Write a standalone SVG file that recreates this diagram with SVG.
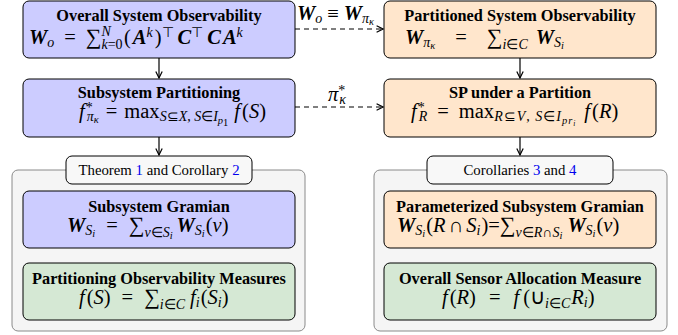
<svg xmlns="http://www.w3.org/2000/svg" width="678" height="335" viewBox="0 0 678 335">
<style>
.bg{fill:#ffffff}
.cont{fill:#f5f5f5;stroke:#8a8a8a;stroke-width:1}
.lab{fill:#f8f8f8;stroke:#000;stroke-width:1}
.pur{fill:#ccccff;stroke:#000;stroke-width:1}
.org{fill:#ffe6cc;stroke:#000;stroke-width:1}
.grn{fill:#d5e8d4;stroke:#000;stroke-width:1}
.t{font-family:'Liberation Serif',serif;font-weight:bold;font-size:16.3px;text-anchor:middle}
.m{font-family:'Liberation Serif',serif;font-size:20.5px}
.l{font-family:'Liberation Serif',serif;font-size:14.8px;text-anchor:middle}
.b{font-weight:bold;font-style:italic}
.i{font-style:italic}
.s{font-size:14px}
.ss{font-size:10.5px}
.sum{font-size:22px}
.ref{fill:#0000ee}
.c{fill:none;stroke:#000;stroke-width:1.2}
.d{stroke-dasharray:5,4}
</style>
<defs>
<marker id="ah" viewBox="0 0 10 10" refX="9" refY="5" markerWidth="8" markerHeight="8" markerUnits="userSpaceOnUse" orient="auto">
<path d="M1,1 L9,5 L1,9" fill="none" stroke="#000" stroke-width="1.5"/>
</marker>
</defs>
<rect class="bg" x="0" y="0" width="678" height="335"/>

<g id="containers">
<rect id="left-container" class="cont" x="12" y="170" width="293" height="161" rx="6"/>
<rect id="right-container" class="cont" x="374" y="170" width="293" height="161" rx="6"/>
</g>

<g id="connectors">
<line class="c" x1="159" y1="58" x2="159" y2="78" marker-end="url(#ah)"/>
<line class="c" x1="159" y1="137" x2="159" y2="155" marker-end="url(#ah)"/>
<line class="c" x1="520" y1="58" x2="520" y2="78" marker-end="url(#ah)"/>
<line class="c" x1="520" y1="137" x2="520" y2="155" marker-end="url(#ah)"/>
<line class="c d" x1="295" y1="29" x2="383" y2="29" marker-end="url(#ah)"/>
<line class="c d" x1="295" y1="107" x2="383" y2="107" marker-end="url(#ah)"/>
<text class="m" x="297" y="20" font-size="19"><tspan class="b">W</tspan><tspan class="i s" baseline-shift="-3">o</tspan><tspan dx="5">≡</tspan><tspan class="b" dx="5">W</tspan><tspan class="i s" baseline-shift="-3">π<tspan class="ss" baseline-shift="-2">κ</tspan></tspan></text>
<text class="m" x="328" y="101" font-size="19"><tspan class="i">π</tspan><tspan class="s" baseline-shift="6">*</tspan><tspan class="i s" dx="-6" baseline-shift="-3">κ</tspan></text>
</g>

<g id="overall-system-observability">
<rect class="pur" x="23" y="1" width="272" height="57" rx="6"/>
<text class="t" x="159" y="21">Overall System Observability</text>
<text class="m" x="29" y="44"><tspan class="b">W</tspan><tspan class="i s" baseline-shift="-3">o</tspan><tspan dx="10">=</tspan><tspan class="sum" dx="10">∑</tspan><tspan class="s" baseline-shift="-5"><tspan class="i">k</tspan>=0</tspan><tspan class="i s" dx="-21" baseline-shift="8">N</tspan><tspan dx="13">(</tspan><tspan class="b" dx="2">A</tspan><tspan class="i s" baseline-shift="7">k</tspan><tspan dx="2">)</tspan><tspan class="s" baseline-shift="7">⊤</tspan><tspan class="b" dx="4">C</tspan><tspan class="s" baseline-shift="7">⊤</tspan><tspan class="b" dx="4">C</tspan><tspan class="b" dx="2">A</tspan><tspan class="i s" baseline-shift="7">k</tspan></text>
</g>

<g id="subsystem-partitioning">
<rect class="pur" x="23" y="79" width="272" height="58" rx="6"/>
<text class="t" x="159" y="98">Subsystem Partitioning</text>
<text class="m" x="79" y="118"><tspan class="i">f</tspan><tspan class="s" dx="1" baseline-shift="6">*</tspan><tspan class="i s" dx="-6" baseline-shift="-3">π<tspan class="ss" baseline-shift="-2">κ</tspan></tspan><tspan dx="7">=</tspan><tspan dx="7">max</tspan><tspan class="s" baseline-shift="-3"><tspan class="i">S</tspan>⊆<tspan class="i">X</tspan>, <tspan class="i">S</tspan>∈<tspan class="i">I</tspan><tspan class="i ss" baseline-shift="-3">p</tspan><tspan class="ss" baseline-shift="-5">1</tspan></tspan><tspan class="i" dx="6">f</tspan><tspan dx="2">(</tspan><tspan class="i">S</tspan>)</text>
</g>

<g id="partitioned-system-observability">
<rect class="org" x="384" y="1" width="272" height="57" rx="6"/>
<text class="t" x="520" y="21">Partitioned System Observability</text>
<text class="m" x="405" y="44"><tspan class="b">W</tspan><tspan class="i s" baseline-shift="-3">π<tspan class="ss" baseline-shift="-2">κ</tspan></tspan><tspan dx="20">=</tspan><tspan class="sum" dx="20">∑</tspan><tspan class="s" baseline-shift="-5"><tspan class="i">i</tspan>∈<tspan class="i">C</tspan></tspan><tspan class="b" dx="8">W</tspan><tspan class="i s" baseline-shift="-3">S<tspan class="ss" baseline-shift="-2">i</tspan></tspan></text>
</g>

<g id="sp-under-partition">
<rect class="org" x="384" y="79" width="272" height="58" rx="6"/>
<text class="t" x="520" y="98">SP under a Partition</text>
<text class="m" x="411" y="118"><tspan class="i">f</tspan><tspan class="s" dx="1" baseline-shift="6">*</tspan><tspan class="i s" dx="-6" baseline-shift="-3">R</tspan><tspan dx="10">=</tspan><tspan dx="10">max</tspan><tspan class="s" baseline-shift="-3" letter-spacing="1"><tspan class="i">R</tspan>⊆<tspan class="i">V</tspan>, <tspan class="i">S</tspan>∈<tspan class="i">I</tspan><tspan class="i ss" baseline-shift="-3">p</tspan><tspan class="i ss" baseline-shift="-3">r</tspan><tspan class="i" font-size="7.5px" baseline-shift="-5">i</tspan></tspan><tspan class="i" dx="8">f</tspan><tspan dx="2">(</tspan><tspan class="i">R</tspan>)</text>
</g>

<g id="label-theorem">
<rect class="lab" x="66" y="156" width="186" height="28" rx="6"/>
<text class="l" x="159" y="175">Theorem <tspan class="ref">1</tspan> and Corollary <tspan class="ref">2</tspan></text>
</g>

<g id="label-corollaries">
<rect class="lab" x="427" y="156" width="186" height="28" rx="6"/>
<text class="l" x="520" y="175">Corollaries <tspan class="ref">3</tspan> and <tspan class="ref">4</tspan></text>
</g>

<g id="subsystem-gramian">
<rect class="pur" x="23" y="191" width="272" height="57" rx="6"/>
<text class="t" x="159" y="212">Subsystem Gramian</text>
<text class="m" x="67" y="232"><tspan class="b">W</tspan><tspan class="i s" baseline-shift="-3">S<tspan class="ss" baseline-shift="-2">i</tspan></tspan><tspan dx="11">=</tspan><tspan class="sum" dx="11">∑</tspan><tspan class="s" baseline-shift="-5"><tspan class="i">v</tspan>∈<tspan class="i">S</tspan><tspan class="i ss" baseline-shift="-2">i</tspan></tspan><tspan class="b" dx="4">W</tspan><tspan class="i s" baseline-shift="-3">S<tspan class="ss" baseline-shift="-2">i</tspan></tspan><tspan dx="1">(</tspan><tspan class="i">v</tspan>)</text>
</g>

<g id="partitioning-observability-measures">
<rect class="grn" x="23" y="263" width="272" height="57" rx="6"/>
<text class="t" x="159" y="284">Partitioning Observability Measures</text>
<text class="m" x="79" y="304"><tspan class="i">f</tspan><tspan dx="2">(</tspan><tspan class="i">S</tspan>)<tspan dx="11">=</tspan><tspan class="sum" dx="11">∑</tspan><tspan class="s" baseline-shift="-5"><tspan class="i">i</tspan>∈<tspan class="i">C</tspan></tspan><tspan class="i" dx="5">f</tspan><tspan class="i s" baseline-shift="-3">i</tspan><tspan dx="1">(</tspan><tspan class="i">S</tspan><tspan class="i s" baseline-shift="-3">i</tspan>)</text>
</g>

<g id="parameterized-subsystem-gramian">
<rect class="org" x="384" y="191" width="272" height="57" rx="6"/>
<text class="t" x="520" y="212">Parameterized Subsystem Gramian</text>
<text class="m" x="397" y="232"><tspan class="b">W</tspan><tspan class="i s" baseline-shift="-3">S<tspan class="ss" baseline-shift="-2">i</tspan></tspan><tspan dx="1">(</tspan><tspan class="i">R</tspan><tspan dx="3">∩</tspan><tspan class="i" dx="3">S</tspan><tspan class="i s" baseline-shift="-3">i</tspan><tspan dx="1">)=</tspan><tspan class="sum">∑</tspan><tspan class="s" baseline-shift="-5"><tspan class="i">v</tspan>∈<tspan class="i">R</tspan>∩<tspan class="i">S</tspan><tspan class="i ss" baseline-shift="-2">i</tspan></tspan><tspan class="b" dx="5">W</tspan><tspan class="i s" baseline-shift="-3">S<tspan class="ss" baseline-shift="-2">i</tspan></tspan><tspan dx="1">(</tspan><tspan class="i">v</tspan>)</text>
</g>

<g id="overall-sensor-allocation-measure">
<rect class="grn" x="384" y="263" width="272" height="57" rx="6"/>
<text class="t" x="520" y="284">Overall Sensor Allocation Measure</text>
<text class="m" x="442" y="304"><tspan class="i">f</tspan><tspan dx="2">(</tspan><tspan class="i">R</tspan>)<tspan dx="13">=</tspan><tspan class="i" dx="13">f</tspan><tspan dx="4">(</tspan><tspan>∪</tspan><tspan class="s" baseline-shift="-4"><tspan class="i">i</tspan>∈<tspan class="i">C</tspan></tspan><tspan class="i" dx="1">R</tspan><tspan class="i s" baseline-shift="-3">i</tspan><tspan>)</tspan></text>
</g>
</svg>
